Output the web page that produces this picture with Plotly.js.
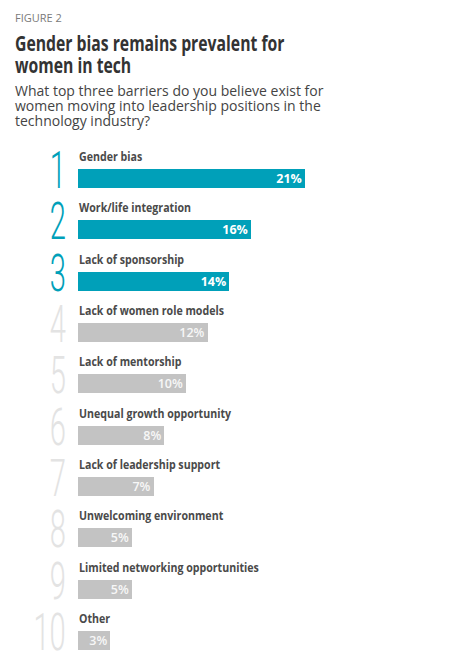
<!DOCTYPE html>
<html>
<head>
<meta charset="utf-8">
<script src="https://cdn.plot.ly/plotly-3.0.1.min.js"></script>
<style>
  html, body { margin: 0; padding: 0; background: #fff; }
  #chart { width: 458px; height: 663px; }
</style>
</head>
<body>
<div id="chart"></div>
<script>
// Survey answers, ranked
const ranks = ['1', '2', '3', '4', '5', '6', '7', '8', '9', '10'];
const barriers = [
  'Gender bias',
  'Work/life integration',
  'Lack of sponsorship',
  'Lack of women role models',
  'Lack of mentorship',
  'Unequal growth opportunity',
  'Lack of leadership support',
  'Unwelcoming environment',
  'Limited networking opportunities',
  'Other'
];
const shares = [21, 16, 14, 12, 10, 8, 7, 5, 5, 3];
const topCount = 3;

const TEAL = '#00a0b9';
const GREY_BAR = '#c3c3c3';
const GREY_RANK = '#e3e3e3';
const LABEL_COLOR = '#4a4a4a';

const W = 458, H = 663;
const M = { l: 78, r: 2, t: 153, b: 0 };
const plotW = W - M.l - M.r, plotH = H - M.t - M.b;
// pixel -> paper helpers for the heading block
const px = x => (x - M.l) / plotW;
const py = y => 1 - (y - M.t) / plotH;

const isTop = barriers.map((_, i) => i < topCount);
const barColors = isTop.map(t => t ? TEAL : GREY_BAR);
const rankColors = isTop.map(t => t ? TEAL : GREY_RANK);

const trace = {
  type: 'bar',
  orientation: 'h',
  x: shares,
  y: barriers,
  width: 0.37,
  marker: { color: barColors, line: { width: 0 } },
  texttemplate: '%{x}%',
  textposition: 'inside',
  insidetextanchor: 'end',
  constraintext: 'none',
  textfont: {
    family: 'Open Sans', size: 12.5,
    weight: isTop.map(t => t ? 700 : 600),
    color: isTop.map(t => t ? '#ffffff' : '#f7f7f7')
  },
  hoverinfo: 'skip'
};

const annotations = [];
// horizontal squeeze per annotation (condensed typeface look): {k, side}
const squeeze = [];
function addNote(a, sq) {
  annotations.push(a);
  squeeze.push(sq || null);
}

// heading block
addNote({
  xref: 'paper', yref: 'paper', x: px(13), y: py(17), xanchor: 'left', yanchor: 'middle', align: 'left',
  text: 'FIGURE 2', showarrow: false,
  font: { family: 'Open Sans', size: 11, color: '#7a7a7a' }
});
['Gender bias remains prevalent for', 'women in tech'].forEach((t, i) => {
  addNote({
    xref: 'paper', yref: 'paper', x: px(13), y: py(43 + i * 22), xanchor: 'left', yanchor: 'middle', align: 'left',
    text: t, showarrow: false,
    font: { family: 'Open Sans', size: 21, weight: 700, color: '#333333' }
  }, { k: 0.75, side: 'left' });
});
['What top three barriers do you believe exist for',
 'women moving into leadership positions in the',
 'technology industry?'].forEach((t, i) => {
  addNote({
    xref: 'paper', yref: 'paper', x: px(13), y: py(90.5 + i * 14.8), xanchor: 'left', yanchor: 'middle', align: 'left',
    text: t, showarrow: false,
    font: { family: 'Open Sans', size: 14, color: '#444444' }
  });
});

// category labels above each bar, rank numerals to the left
barriers.forEach((b, i) => {
  addNote({
    xref: 'x', yref: 'y', x: 0, y: b, xanchor: 'left', yanchor: 'middle', align: 'left', yshift: 22, xshift: -1,
    text: b, showarrow: false,
    font: { family: 'Open Sans', size: 12.5, weight: 700, color: LABEL_COLOR }
  }, { k: 0.85, side: 'left' });
  addNote({
    xref: 'x', yref: 'y', x: 0, y: b, xanchor: 'right', yanchor: 'middle', align: 'right',
    xshift: -10, yshift: 8,
    text: ranks[i], showarrow: false,
    font: { family: 'Roboto', size: 52, weight: 300, color: rankColors[i] }
  }, { k: 0.56, side: 'right' });
});

const layout = {
  width: W, height: H,
  margin: M,
  paper_bgcolor: '#ffffff', plot_bgcolor: '#ffffff',
  showlegend: false,
  bargap: 0,
  xaxis: { range: [0, 35], visible: false, fixedrange: true },
  yaxis: {
    type: 'category', categoryorder: 'array', categoryarray: barriers,
    range: [9.44, -0.5], visible: false, fixedrange: true
  },
  annotations: annotations,
  hovermode: false
};

Plotly.newPlot('chart', [trace], layout, { displayModeBar: false, staticPlot: true }).then(gd => {
  // narrow the condensed-style texts around their anchored edge
  gd.querySelectorAll('.annotation').forEach(g => {
    const sq = squeeze[+g.getAttribute('data-index')];
    const el = g.querySelector('.annotation-text');
    if (!sq || !el) return;
    const bb = el.getBBox();
    const ax = sq.side === 'right' ? bb.x + bb.width : bb.x;
    el.setAttribute('transform', `translate(${ax},0) scale(${sq.k},1) translate(${-ax},0)`);
  });
});
</script>
</body>
</html>
